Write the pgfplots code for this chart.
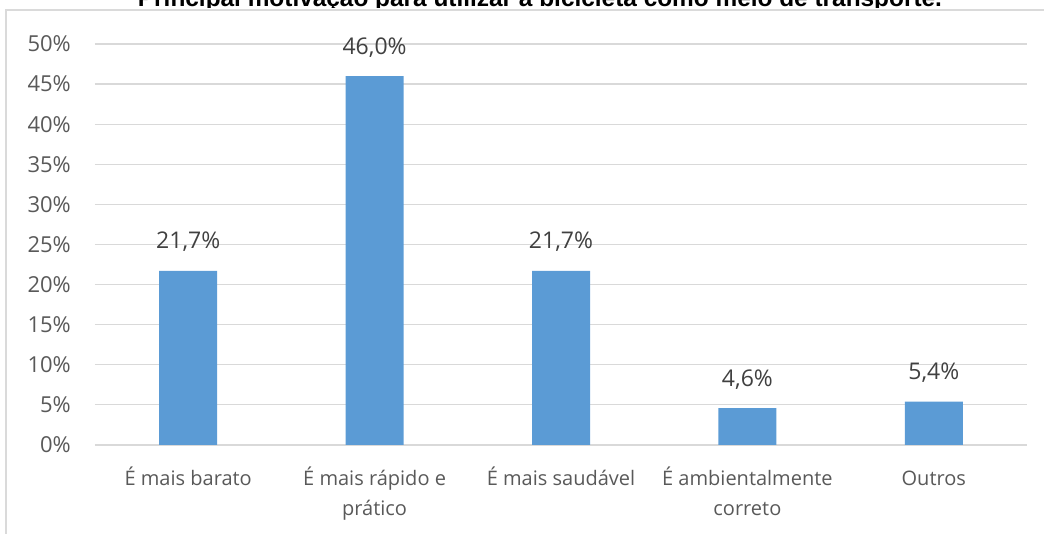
\documentclass[border=0pt]{standalone}
\usepackage{pgfplots}
\pgfplotsset{compat=1.18}
\usepackage{fontspec}
\setmainfont{Open Sans}
\newfontfamily\titlefont{Liberation Sans}
\definecolor{barblue}{RGB}{91,155,213}
\definecolor{gridgray}{RGB}{217,217,217}
\definecolor{txtgray}{RGB}{89,89,89}
\definecolor{lblgray}{RGB}{64,64,64}
\definecolor{framegray}{RGB}{218,218,218}
\begin{document}
\begin{tikzpicture}
\begin{axis}[
  name=ax,
  scale only axis,
  width=932pt, height=401pt,
  xmin=-0.5, xmax=4.5,
  ymin=0, ymax=50,
  ytick={0,5,...,50},
  yticklabel={\pgfmathprintnumber{\tick}\%},
  /pgf/number format/assume math mode=true,
  xtick=data,
  xticklabels={{\strut É mais barato},{\strut É mais rápido e\\prático},{\strut É mais saudável},{\strut É ambientalmente\\correto},{\strut Outros}},
  xticklabel style={font=\fontsize{20}{30}\selectfont, text=txtgray, align=center, anchor=north, inner sep=0pt, yshift=-19pt},
  yticklabel style={font=\fontsize{22}{26}\selectfont, text=txtgray, anchor=east, inner sep=0pt, xshift=-24pt},
  major tick length=0pt,
  axis line style={draw=none},
  axis x line*=bottom,
  ymajorgrids,
  grid style={gridgray, line width=1.2pt},
  ybar, bar width=58pt,
  nodes near coords={\pgfmathprintnumber[fixed,fixed zerofill,precision=1,use comma]{\pgfplotspointmeta}\%},
  nodes near coords style={font=\fontsize{23}{27}\selectfont, text=lblgray, anchor=base, inner sep=0pt, yshift=22pt},
  point meta=explicit,
  clip=false,
]
\addplot[fill=barblue, draw=none] coordinates {(0,21.7) [21.7] (1,46.0) [46.0] (2,21.7) [21.7] (3,4.6) [4.6] (4,5.4) [5.4]};
\end{axis}
\pgfresetboundingbox
\path[use as bounding box] ([xshift=-95pt,yshift=-89pt]ax.south west) rectangle ([xshift=17pt,yshift=44pt]ax.north east);
% frame
\draw[framegray, line width=2.5pt] ([xshift=-89pt,yshift=-95pt]ax.south west) -- ([xshift=-89pt,yshift=34pt]ax.north west) -- ([xshift=20pt,yshift=34pt]ax.north east);
% title (clipped at top)
\begin{scope}
\clip ([xshift=-95pt,yshift=36.5pt]ax.north west) rectangle ([xshift=17pt,yshift=60pt]ax.north east);
\node[font=\titlefont\bfseries\fontsize{24.4}{28}\selectfont, anchor=base, inner sep=0pt] at ([xshift=-95pt+540pt,yshift=37pt]ax.north west) {Principal motivação para utilizar a bicicleta como meio de transporte.};
\end{scope}
\end{tikzpicture}
\end{document}
